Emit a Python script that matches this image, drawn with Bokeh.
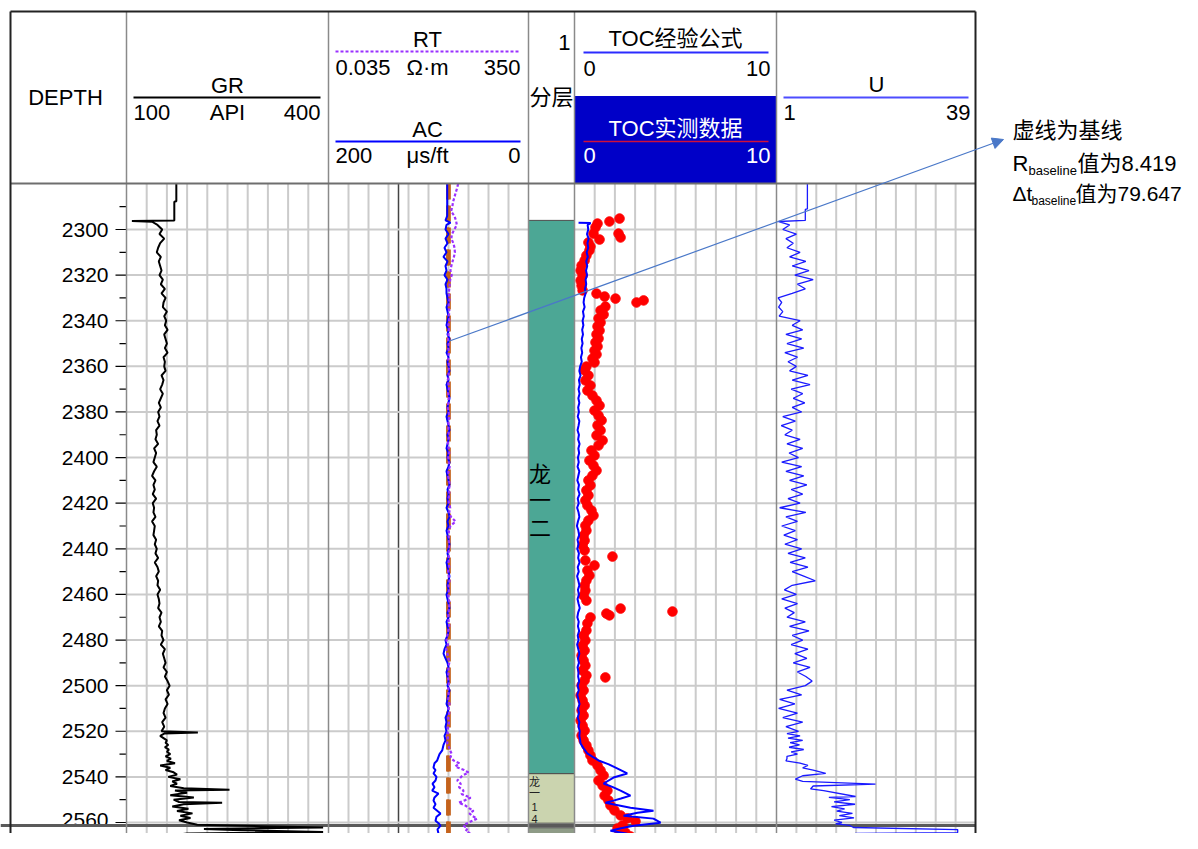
import math
from bokeh.plotting import figure
from bokeh.models import Range1d, LogScale, Arrow, NormalHead
from bokeh.embed import file_html
from bokeh.resources import INLINE
from bokeh.core.properties import value

# ------------------------------------------------------------------ data
GRID_DEPTH = list(range(2298, 2521, 2))   # sampling depths of the main section (m)

GR_TOP_DEPTH = [2280, 2287.6, 2287.8, 2296.0, 2296.3, 2296.6]
GR_TOP = [174, 174, 171, 171, 108, 138]
GR_MAIN = [146, 153, 149, 156, 150, 147, 145, 151, 148, 150,
           152, 149, 154, 151, 157, 152, 158, 155, 154, 160,
           156, 159, 157, 161, 156, 158, 160, 157, 161, 155,
           157, 156, 158, 152, 155, 153, 150, 154, 151, 148,
           151, 147, 149, 146, 149, 144, 145, 143, 147, 141,
           144, 142, 140, 145, 141, 138, 143, 140, 142, 139,
           144, 139, 141, 140, 143, 138, 142, 141, 140, 144,
           142, 145, 143, 147, 142, 146, 148, 144, 147, 146,
           150, 146, 148, 149, 147, 152, 149, 151, 148, 153,
           152, 155, 151, 157, 154, 156, 158, 155, 160, 157,
           161, 164, 160, 163, 158, 161, 157, 155, 158, 153,
           156, 152]
GR_TAIL_DEPTH = [2520.5, 2521, 2522, 2523, 2524, 2525, 2526, 2527, 2528, 2529,
                 2530, 2531, 2532, 2533, 2534, 2535, 2536, 2537, 2538, 2539,
                 2540, 2541, 2542, 2543, 2544, 2545, 2545.6, 2546, 2547, 2548,
                 2549, 2550, 2551, 2551.3, 2552, 2553, 2554, 2555, 2556, 2557,
                 2558, 2559, 2560, 2561, 2561.6, 2562.2, 2562.8, 2563.4, 2564.2, 2564.8,
                 2565.4, 2566.2, 2567.0, 2567.6, 2568.3]
GR_TAIL = [206, 156, 150, 155, 160, 158, 162, 157, 163, 160,
           165, 158, 166, 160, 172, 150, 165, 158, 170, 175,
           162, 180, 168, 175, 165, 185, 253, 172, 190, 165,
           200, 170, 178, 242, 185, 168, 192, 175, 198, 180,
           195, 178, 190, 205, 300, 392, 215, 270, 392, 190,
           175, 230, 392, 250, 300]

RT_TOP_DEPTH = [2280, 2282, 2284, 2286, 2288, 2290, 2292, 2294, 2296]
RT_TOP = [13.7, 13.0, 12.2, 11.5, 10.8, 10.5, 9.9, 11.5, 12.4]
RT_MAIN = [12.9, 11.5, 10.3, 10.0, 11.0, 11.6, 11.8, 11.3, 10.6, 10.0,
           9.6, 10.2, 9.5, 9.3, 9.1, 8.9, 9.3, 9.0, 8.8, 9.2,
           8.9, 9.1, 8.7, 9.0, 8.8, 8.6, 8.9, 8.7, 9.0, 8.6,
           8.8, 9.1, 8.7, 8.9, 8.5, 8.8, 9.0, 8.6, 8.9, 8.7,
           8.5, 8.8, 9.2, 8.7, 8.9, 8.6, 9.0, 8.8, 8.5, 8.9,
           9.1, 8.7, 8.9, 9.3, 8.8, 8.6, 9.0, 9.4, 8.9, 9.2,
           8.8, 9.0, 9.5, 9.1, 9.8, 12.2, 9.6, 9.0, 8.8, 9.1,
           8.9, 9.2, 8.7, 9.0, 8.8, 9.1, 8.6, 8.9, 9.2, 8.8,
           9.0, 8.7, 8.9, 9.3, 8.8, 9.0, 8.6, 8.9, 9.1, 8.7,
           8.3, 8.0, 8.6, 7.9, 8.4, 8.8, 9.1, 8.7, 8.9, 8.5,
           8.8, 9.0, 8.6, 8.9, 8.7, 9.2, 8.8, 9.1, 8.7, 9.0,
           8.6, 8.4]
RT_TAIL_DEPTH = [2522, 2524, 2525.4, 2527, 2528.5, 2530, 2531.5, 2532.8, 2534, 2535.5,
                 2537, 2538.1, 2539.5, 2540.5, 2541.6, 2543, 2544.5, 2546, 2547.5, 2549.1,
                 2550.3, 2551.3, 2552.5, 2553.7, 2554.8, 2556, 2557.2, 2558.3, 2559.5, 2560.5,
                 2561.4, 2562.6, 2563.8, 2564.9, 2566, 2567.2, 2568.3]
RT_TAIL = [8.6, 8.4, 8.3, 9.0, 9.5, 10.2, 9.6, 11.1, 14.5, 12.0,
           18.0, 22.1, 16.5, 15.0, 13.1, 15.5, 14.2, 17.6, 16.0, 24.4,
           18.5, 14.0, 19.0, 22.5, 27.9, 23.0, 26.5, 32.8, 25.0, 20.0,
           17.6, 21.0, 19.5, 24.4, 27.0, 30.5, 32.8]

AC_TOP_DEPTH = [2280, 2294, 2296, 2297]
AC_TOP = [81.3, 81.3, 83, 78]
AC_MAIN = [82, 83, 80, 83, 81, 84, 82, 85, 81, 83,
           82, 84, 81, 83, 82, 82, 81, 80, 82, 81,
           80, 81, 82, 80, 81, 79, 81, 80, 82, 80,
           81, 80, 79, 81, 80, 82, 81, 80, 79, 80,
           81, 80, 82, 81, 80, 79, 81, 80, 81, 82,
           80, 81, 79, 80, 82, 81, 80, 79, 81, 80,
           81, 80, 82, 80, 79, 81, 80, 82, 81, 80,
           79, 80, 81, 80, 82, 81, 80, 79, 80, 81,
           80, 82, 81, 80, 79, 81, 80, 82, 81, 80,
           81, 83, 82, 84, 85, 83, 81, 80, 82, 81,
           80, 81, 79, 80, 81, 82, 80, 81, 83, 82,
           83, 82]
AC_TAIL_DEPTH = [2521, 2522, 2524, 2526, 2528.4, 2530, 2532.8, 2534, 2535.9, 2537,
                 2538.5, 2540, 2541.6, 2543, 2544.5, 2546, 2547.3, 2549, 2550.4, 2552,
                 2553.5, 2555, 2556.1, 2557.5, 2559.2, 2560.3, 2561.4, 2563, 2564.9, 2566.5,
                 2568.3]
AC_TAIL = [83, 84, 83, 85, 86.3, 89, 91.3, 94, 95, 93,
           95, 92, 93, 96, 94, 96.3, 90, 94, 95, 93,
           95, 91, 88, 92, 93, 90, 88, 91, 90, 88,
           86.3]

RT_BASELINE = 8.419
AC_BASELINE = 79.647

LITH_TOP = [2296.0, 2538.6, 2562.3, 2565.8]
LITH_BOTTOM = [2538.6, 2560.3, 2565.2, 2568.3]
LITH_COLOR = ["#4ca795", "#cbd4af", "#8e9b87", "#ebc5b4"]
FORMATION_BOUNDARY = 2561.3
LAYER_BIG = ["龙", "一", "二"]
LAYER_BIG_DEPTH = [2407.4, 2418.8, 2431.1]
LAYER_SMALL = ["龙", "一", "1", "4"]
LAYER_SMALL_DEPTH = [2542.3, 2547.1, 2553.0, 2558.3]

TOC_TOP_DEPTH = [2297.0, 2297.2]
TOC_TOP = [0.2, 0.8]
TOC_MAIN = [0.65, 0.68, 0.62, 0.70, 0.64, 0.68, 0.60, 0.66, 0.58, 0.63,
            0.57, 0.62, 0.55, 0.58, 0.52, 0.55, 0.48, 0.45, 0.50, 0.42,
            0.46, 0.40, 0.44, 0.38, 0.42, 0.36, 0.40, 0.34, 0.38, 0.32,
            0.36, 0.28, 0.24, 0.30, 0.22, 0.26, 0.20, 0.25, 0.19, 0.24,
            0.18, 0.22, 0.16, 0.24, 0.20, 0.15, 0.22, 0.18, 0.25, 0.19,
            0.23, 0.17, 0.21, 0.15, 0.24, 0.19, 0.14, 0.22, 0.18, 0.25,
            0.16, 0.21, 0.13, 0.20, 0.24, 0.17, 0.12, 0.19, 0.23, 0.15,
            0.20, 0.14, 0.22, 0.18, 0.25, 0.16, 0.21, 0.13, 0.19, 0.24,
            0.17, 0.22, 0.15, 0.20, 0.26, 0.18, 0.14, 0.21, 0.17, 0.23,
            0.16, 0.20, 0.13, 0.19, 0.24, 0.17, 0.22, 0.15, 0.20, 0.18,
            0.23, 0.16, 0.21, 0.14, 0.19, 0.25, 0.18, 0.22, 0.16, 0.24,
            0.20, 0.26]
TOC_TAIL_DEPTH = [2522, 2524, 2525.4, 2527.5, 2529.7, 2531.2, 2532.8, 2534.5, 2536.3, 2538.5,
                  2540.3, 2542.9, 2544.5, 2546.0, 2548.2, 2549.5, 2550.4, 2551.3, 2553.5, 2554.8,
                  2555.7, 2557.0, 2558.3, 2560.1, 2561.4, 2562.5, 2563.6, 2564.9, 2565.8, 2567.1,
                  2568.3]
TOC_TAIL = [0.24, 0.28, 0.30, 0.45, 0.63, 0.90, 1.19, 1.70, 2.11, 2.61,
            1.93, 1.44, 1.90, 2.28, 2.77, 2.30, 1.93, 1.53, 2.77, 3.91,
            3.12, 2.43, 3.91, 4.26, 2.92, 2.30, 1.78, 2.62, 3.61, 2.28,
            1.50]

TOC_MEASURED = [
    (2295.2, 2.23), (2296.5, 1.73), (2297.4, 1.14), (2299.1, 1.04), (2301.8, 0.94),
    (2301.8, 2.18), (2303.5, 2.28), (2304.4, 1.24), (2305.7, 0.69), (2307.5, 0.79),
    (2309.2, 0.74), (2311.4, 0.59), (2313.6, 0.50), (2315.8, 0.35), (2318.0, 0.30),
    (2320.2, 0.40), (2322.4, 0.30), (2324.6, 0.35), (2326.7, 0.40), (2328.1, 1.09),
    (2329.4, 1.49), (2330.3, 2.03), (2332.0, 3.07), (2331.1, 3.42), (2333.8, 1.53),
    (2335.5, 1.29), (2337.3, 1.44), (2339.0, 1.19), (2340.8, 1.29), (2342.5, 1.14),
    (2344.3, 1.24), (2346.0, 1.09), (2347.8, 1.19), (2349.5, 1.04), (2351.3, 1.14),
    (2353.1, 0.99), (2354.8, 1.09), (2356.6, 0.89), (2358.3, 0.99), (2360.1, 0.59),
    (2361.8, 0.50), (2364.0, 0.69), (2366.2, 0.54), (2368.4, 0.79), (2370.6, 0.64),
    (2372.8, 0.89), (2375.0, 1.09), (2377.2, 1.24), (2379.4, 0.99), (2381.6, 1.19),
    (2383.7, 1.34), (2385.9, 1.14), (2388.1, 1.29), (2390.3, 1.09), (2392.5, 1.39),
    (2394.7, 1.19), (2396.9, 0.84), (2399.1, 0.99), (2401.3, 0.74), (2403.5, 0.94),
    (2405.7, 1.09), (2407.9, 0.89), (2410.0, 0.69), (2412.2, 0.79), (2414.4, 0.59),
    (2416.6, 0.69), (2418.8, 0.54), (2421.0, 0.64), (2423.2, 0.84), (2425.4, 0.94),
    (2427.6, 0.69), (2429.8, 0.54), (2432.0, 0.59), (2434.2, 0.45), (2436.4, 0.50),
    (2438.5, 0.40), (2440.7, 0.50), (2443.4, 1.88), (2445.1, 0.54), (2447.3, 0.99),
    (2449.5, 0.64), (2451.7, 0.74), (2453.9, 0.59), (2456.1, 0.50), (2458.3, 0.54),
    (2460.5, 0.45), (2462.7, 0.59), (2466.2, 2.28), (2468.4, 1.58), (2469.2, 1.73),
    (2467.5, 4.85), (2470.1, 0.79), (2472.7, 0.64), (2475.8, 0.59), (2478.0, 0.45),
    (2480.2, 0.54), (2482.4, 0.40), (2484.6, 0.50), (2486.8, 0.35), (2489.0, 0.45),
    (2491.2, 0.54), (2493.4, 0.40), (2496.4, 1.53), (2495.5, 0.59), (2497.7, 0.50),
    (2499.9, 0.35), (2502.1, 0.45), (2504.3, 0.30), (2506.5, 0.40), (2508.7, 0.50),
    (2510.9, 0.35), (2513.1, 0.45), (2515.3, 0.30), (2517.5, 0.40), (2519.7, 0.50),
    (2521.9, 0.35), (2524.0, 0.45), (2526.2, 0.59), (2528.4, 0.69), (2530.6, 0.79),
    (2532.8, 0.89), (2535.0, 1.14), (2537.2, 1.29), (2539.4, 1.44), (2541.6, 1.19),
    (2543.8, 1.39), (2546.0, 1.63), (2548.2, 1.49), (2550.3, 1.68), (2552.5, 1.78),
    (2554.7, 1.98), (2556.9, 2.28), (2558.2, 2.62), (2559.5, 3.02), (2561.3, 2.38),
    (2562.6, 2.13), (2564.4, 2.52), (2566.1, 2.77), (2567.5, 3.51), (2568.3, 3.86),
]

U_TOP_DEPTH = [2280, 2291, 2291.2, 2296.0, 2296.5]
U_TOP = [6.9, 6.9, 6.5, 6.5, 1.4]
U_MAIN = [3.5, 2.2, 4.8, 2.8, 4.2, 3.0, 5.5, 3.5, 6.6, 4.0,
          7.2, 4.5, 8.0, 5.0, 6.5, 4.0, 1.3, 2.0, 1.4, 2.2,
          1.5, 5.5, 4.0, 6.0, 2.8, 5.8, 3.0, 6.2, 2.6, 5.0,
          3.2, 4.8, 3.5, 7.0, 4.0, 7.4, 3.8, 6.0, 4.2, 6.4,
          4.0, 5.8, 2.2, 4.6, 1.9, 4.0, 2.6, 5.5, 3.0, 6.0,
          3.4, 5.2, 2.0, 5.8, 2.8, 6.2, 3.5, 6.8, 3.8, 6.0,
          3.2, 5.5, 1.6, 6.6, 2.8, 5.0, 2.0, 4.6, 2.4, 5.0,
          2.6, 5.8, 3.2, 6.5, 3.6, 7.0, 4.0, 6.2, 8.4, 4.0,
          2.5, 4.8, 2.0, 5.0, 2.6, 4.4, 3.0, 6.5, 3.5, 7.2,
          4.0, 6.0, 3.8, 7.0, 4.5, 6.8, 4.2, 7.4, 5.0, 6.6,
          7.8, 6.5, 3.0, 5.8, 1.6, 4.5, 1.4, 5.0, 2.2, 6.0,
          2.8, 5.2]
U_TAIL_DEPTH = [2521, 2522, 2523, 2524, 2525, 2526, 2527, 2528, 2529, 2530,
                2531, 2532, 2533, 2534, 2535, 2536, 2537, 2538.5, 2539.5, 2541,
                2542, 2543.2, 2544, 2545.3, 2546, 2548.6, 2549, 2550, 2551, 2552,
                2553, 2554, 2555, 2556, 2557, 2558, 2559, 2560, 2560.6, 2561.3,
                2562.2, 2563.1, 2564.4, 2564.8, 2566.1, 2567.5, 2568.3]
U_TAIL = [3.0, 5.5, 3.2, 6.0, 3.6, 5.4, 3.4, 6.2, 3.8, 5.0,
          3.0, 3.0, 2.8, 5.5, 7.0, 6.0, 8.0, 10.4, 6.0, 4.6,
          6.0, 19.9, 8.0, 7.5, 10.0, 16.1, 11.0, 15.0, 12.0, 16.0,
          11.5, 14.0, 12.5, 15.5, 13.0, 15.8, 12.0, 13.5, 12.3, 15.0,
          15.7, 35.6, 35.6, 16.0, 15.7, 39.0, 39.0]

DEPTH_TICKS = [2300, 2320, 2340, 2360, 2380, 2400, 2420, 2440, 2460, 2480, 2500, 2520, 2540, 2560]
DEPTH_MINOR = [2290, 2310, 2330, 2350, 2370, 2390, 2410, 2430, 2450, 2470, 2490, 2510, 2530, 2550]

GR_GRID = [130, 160, 190, 220, 250, 280, 310, 340, 370]
AC_GRID = [180, 160, 140, 120, 100, 80, 60, 40, 20]
TOC_GRID = [1, 2, 3, 4, 5, 6, 7, 8, 9]
U_GRID = [4.8, 8.6, 12.4, 16.2, 20.0, 23.8, 27.6, 31.4, 35.2]
AC_DARK_GRID = [130]

# ------------------------------------------------------------------ layout (picture pixels)
FX0, FX1, FY0, FY1 = 0, 1182, 0, 833
W, H = FX1 - FX0, FY1 - FY0
TRACK = {"depth": (10, 126), "gr": (126, 328), "rt": (328, 528),
         "lith": (528, 574), "toc": (574, 776), "u": (776, 975)}
HEAD_TOP, HEAD_BOT = 11, 183
PX_PER_M = (822 - 229) / 260.0


def depth_at(py):
    return 2300 + (py - 229) / PX_PER_M


def py_at(d):
    return 229 + (d - 2300) * PX_PER_M


def lin_range(a, b, x0, x1):
    per = (b - a) / (x1 - x0)
    return Range1d(start=a - (x0 - FX0) * per, end=b + (FX1 - x1) * per)


def log_range(a, b, x0, x1):
    la, lb = math.log10(a), math.log10(b)
    per = (lb - la) / (x1 - x0)
    return Range1d(start=10 ** (la - (x0 - FX0) * per), end=10 ** (lb + (FX1 - x1) * per))


def join(*parts):
    out = []
    for p_ in parts:
        out += list(p_)
    return out


def pair(d, v):
    n = min(len(d), len(v))
    return d[:n], v[:n]


FONT = "Liberation Sans, Noto Sans CJK SC"

p = figure(width=W, height=H, x_range=Range1d(FX0, FX1), y_range=Range1d(FY1, FY0),
           x_axis_type=None, y_axis_type=None, output_backend="svg",
           toolbar_location=None, min_border=0, outline_line_color=None)
p.background_fill_color = "white"
p.border_fill_color = "white"
p.extra_x_ranges = {
    "gr": lin_range(100, 400, *TRACK["gr"]),
    "rt": log_range(0.035, 350, *TRACK["rt"]),
    "ac": lin_range(200, 0, *TRACK["rt"]),
    "lith": lin_range(0, 1, *TRACK["lith"]),
    "toc": lin_range(0, 10, *TRACK["toc"]),
    "u": lin_range(1, 39, *TRACK["u"]),
}
p.extra_x_scales = {"rt": LogScale()}
p.extra_y_ranges = {"depth": Range1d(start=depth_at(FY1), end=depth_at(FY0))}

D_TOP = depth_at(HEAD_BOT)
D_BOT = depth_at(FY1)
GRID_COLOR = "#cbcbcb"


def txt(x, y, s, size=22, align="center", color="black", baseline="middle"):
    p.text(x=[x], y=[y], text=[s], text_font=value(FONT), text_font_size=f"{size}px",
           text_align=align, text_baseline=baseline, text_color=color)


# ---- grid
for name, vals in (("gr", GR_GRID), ("ac", AC_GRID), ("toc", TOC_GRID), ("u", U_GRID)):
    p.segment(x0=vals, y0=[D_TOP] * len(vals), x1=vals, y1=[D_BOT] * len(vals),
              x_range_name=name, y_range_name="depth", line_color=GRID_COLOR, line_width=2)
p.segment(x0=AC_DARK_GRID, y0=[D_TOP], x1=AC_DARK_GRID, y1=[D_BOT],
          x_range_name="ac", y_range_name="depth", line_color="#444444", line_width=1.5)
p.segment(x0=[TRACK["gr"][0]] * len(DEPTH_TICKS), y0=DEPTH_TICKS,
          x1=[TRACK["u"][1]] * len(DEPTH_TICKS), y1=DEPTH_TICKS,
          y_range_name="depth", line_color=GRID_COLOR, line_width=2)

# ---- lithology column
p.quad(left=[0] * len(LITH_TOP), right=[1] * len(LITH_TOP), top=LITH_TOP, bottom=LITH_BOTTOM,
       x_range_name="lith", y_range_name="depth", fill_color=LITH_COLOR,
       line_color="#4a4a4a", line_width=1)
p.text(x=[0.25] * 3, y=LAYER_BIG_DEPTH, text=LAYER_BIG, x_range_name="lith", y_range_name="depth",
       text_font=value(FONT), text_font_size="22px", text_align="center", text_baseline="middle",
       text_color="black")
p.text(x=[0.13] * 4, y=LAYER_SMALL_DEPTH, text=LAYER_SMALL, x_range_name="lith", y_range_name="depth",
       text_font=value(FONT), text_font_size="11px", text_align="center", text_baseline="middle",
       text_color="#222222")

# ---- depth tick labels (under the boundary line, as in the reference)
label_offset = [0] * (len(DEPTH_TICKS) - 1) + [-3]
p.text(x=[108] * len(DEPTH_TICKS), y=DEPTH_TICKS, text=[str(t) for t in DEPTH_TICKS],
       y_offset=label_offset, y_range_name="depth", text_font=value(FONT), text_font_size="21px",
       text_align="right", text_baseline="middle", text_color="black")

# ---- formation boundary
p.segment(x0=[FX0], y0=[FORMATION_BOUNDARY], x1=[TRACK["u"][1]], y1=[FORMATION_BOUNDARY],
          y_range_name="depth", line_color="#5a5a5a", line_width=3)

# ---- curves
d, v = pair(join(GR_TOP_DEPTH, GRID_DEPTH, GR_TAIL_DEPTH), join(GR_TOP, GR_MAIN, GR_TAIL))
p.line(x=v, y=d, x_range_name="gr", y_range_name="depth", line_color="black", line_width=2)

p.segment(x0=[AC_BASELINE], y0=[D_TOP], x1=[AC_BASELINE], y1=[D_BOT], x_range_name="ac",
          y_range_name="depth", line_color="#c4621c", line_width=4, line_dash="16 6")
p.segment(x0=[RT_BASELINE], y0=[D_TOP], x1=[RT_BASELINE], y1=[D_BOT], x_range_name="rt",
          y_range_name="depth", line_color="#c4621c", line_width=3, line_dash="16 6")

d, v = pair(join(AC_TOP_DEPTH, GRID_DEPTH, AC_TAIL_DEPTH), join(AC_TOP, AC_MAIN, AC_TAIL))
p.line(x=v, y=d, x_range_name="ac", y_range_name="depth", line_color="#0000ff", line_width=2)

d, v = pair(join(RT_TOP_DEPTH, GRID_DEPTH, RT_TAIL_DEPTH), join(RT_TOP, RT_MAIN, RT_TAIL))
p.line(x=v, y=d, x_range_name="rt", y_range_name="depth", line_color="#9b30ff", line_width=2.2,
       line_dash="3 2")

d, v = pair(join(TOC_TOP_DEPTH, GRID_DEPTH, TOC_TAIL_DEPTH), join(TOC_TOP, TOC_MAIN, TOC_TAIL))
p.scatter(x=[t[1] for t in TOC_MEASURED], y=[t[0] for t in TOC_MEASURED], x_range_name="toc",
          y_range_name="depth", size=9.5, fill_color="#ff0000", line_color="#ff0000")
p.line(x=v, y=d, x_range_name="toc", y_range_name="depth", line_color="#0000ff", line_width=2)

d, v = pair(join(U_TOP_DEPTH, GRID_DEPTH, U_TAIL_DEPTH), join(U_TOP, U_MAIN, U_TAIL))
p.line(x=v, y=d, x_range_name="u", y_range_name="depth", line_color="#1a1aff", line_width=1.3)

# ---- depth ticks
p.segment(x0=[115] * len(DEPTH_TICKS), y0=DEPTH_TICKS, x1=[126] * len(DEPTH_TICKS), y1=DEPTH_TICKS,
          y_range_name="depth", line_color="black", line_width=1.2)
p.segment(x0=[119] * len(DEPTH_MINOR), y0=DEPTH_MINOR, x1=[126] * len(DEPTH_MINOR), y1=DEPTH_MINOR,
          y_range_name="depth", line_color="black", line_width=1.2)

# ---- header
p.quad(left=[TRACK["toc"][0]], right=[TRACK["toc"][1]], top=[96], bottom=[HEAD_BOT],
       fill_color="#0000c8", line_color="#0000c8")
txt(65, 97, "DEPTH")
txt(227, 85, "GR")
p.line([133, 320], [97, 97], line_color="black", line_width=2)
txt(133, 112, "100", align="left"); txt(227, 112, "API"); txt(320, 112, "400", align="right")
txt(427, 39, "RT")
p.line([335, 520], [51, 51], line_color="#9b30ff", line_width=2, line_dash="3 2")
txt(335, 67, "0.035", align="left"); txt(427, 67, "Ω·m"); txt(520, 67, "350", align="right")
txt(427, 129, "AC")
p.line([335, 520], [141, 141], line_color="#0000ff", line_width=2)
txt(335, 155, "200", align="left"); txt(427, 155, "μs/ft"); txt(520, 155, "0", align="right")
txt(570, 42, "1", align="right")
txt(551, 97, "分层")
txt(675, 38, "TOC经验公式")
p.line([583, 768], [52, 52], line_color="#2b2bff", line_width=2)
txt(583, 68, "0", align="left"); txt(770, 68, "10", align="right")
txt(675, 128, "TOC实测数据", color="white")
p.line([583, 768], [141, 141], line_color="#d0103a", line_width=1.5)
txt(583, 155, "0", align="left", color="white"); txt(770, 155, "10", align="right", color="white")
txt(876, 84, "U")
p.line([783, 968], [97, 97], line_color="#4d4dff", line_width=2)
txt(783, 112, "1", align="left"); txt(970, 112, "39", align="right")

# ---- track separators and frame
seps = [TRACK["gr"][0], TRACK["rt"][0], TRACK["lith"][0], TRACK["toc"][0], TRACK["u"][0]]
p.segment(x0=seps, y0=[HEAD_TOP] * len(seps), x1=seps, y1=[FY1] * len(seps),
          line_color="#8a8a8a", line_width=1.5)
p.segment(x0=[TRACK["depth"][0], TRACK["depth"][0]], y0=[HEAD_BOT, HEAD_TOP],
          x1=[TRACK["u"][1], TRACK["u"][1]], y1=[HEAD_BOT, HEAD_TOP],
          line_color=["#6e6e6e", "#222222"], line_width=2)
p.segment(x0=[TRACK["depth"][0], TRACK["u"][1]], y0=[HEAD_TOP, HEAD_TOP],
          x1=[TRACK["depth"][0], TRACK["u"][1]], y1=[FY1, FY1],
          line_color="#222222", line_width=2)

# ---- annotation
txt(1012, 130, "虚线为基线", size=22, align="left", baseline="alphabetic")
txt(1012, 163, "R", size=22, align="left", baseline="alphabetic")
txt(1028, 170, "baseline", size=13, align="left", baseline="alphabetic")
txt(1077, 163, "值为8.419", size=22, align="left", baseline="alphabetic")
txt(1012, 193, "Δt", size=21, align="left", baseline="alphabetic")
txt(1031, 200, "baseline", size=12, align="left", baseline="alphabetic")
txt(1075, 193, "值为79.647", size=21, align="left", baseline="alphabetic")

x_start = TRACK["rt"][0] + (TRACK["rt"][1] - TRACK["rt"][0]) * (200 - AC_BASELINE) / 200.0
arrow_color = "#4a78c8"
p.add_layout(Arrow(end=NormalHead(size=11, fill_color=arrow_color, line_color=arrow_color),
                   x_start=x_start, y_start=py_at(2349), x_end=1003, y_end=139,
                   line_color=arrow_color, line_width=1.2))

open("out.html", "w").write(file_html(p, INLINE))
